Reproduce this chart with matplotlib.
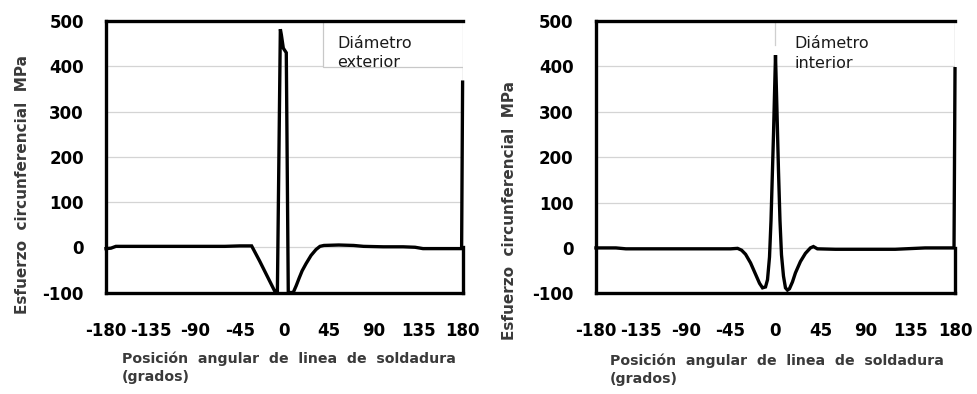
import matplotlib
matplotlib.use("Agg")
import matplotlib.pyplot as plt
from matplotlib.patches import Rectangle

# Hoop stress along the weld line, outer diameter
ang_ext = [-180, -175, -170, -150, -120, -90, -60, -45, -33, -25, -17, -9, -7,
           -4, -3, -1, 2, 4, 9, 12, 15, 18, 22, 27, 32, 36, 40, 55, 70,
           80, 100, 120, 132, 140, 160, 179, 180]
stress_ext = [-3, -2, 2, 2, 2, 2, 2, 3, 3, -30, -65, -100, -100,
              482, 470, 440, 430, -100, -100, -85, -68, -52, -36, -18, -5, 2, 4, 5, 4,
              2, 1, 1, 0, -3, -3, -3, 365]

# Hoop stress along the weld line, inner diameter
ang_int = [-180, -160, -150, -120, -90, -60, -45, -38, -34, -30, -25, -20, -16,
           -13, -10, -8, -6, -4.5, -2, 0, 1.5, 3, 4.5, 6, 8, 10, 12, 14,
           17, 20, 25, 30, 35, 38, 42, 60, 90, 120, 150, 179, 180]
stress_int = [0, 0, -2, -2, -2, -2, -2, -1, -5, -14, -33, -58, -78,
              -88, -86, -70, -20, 60, 250, 425, 300, 170, 60, -15, -62, -88, -93, -90,
              -75, -55, -30, -12, 0, 3, -2, -3, -3, -3, 0, 0, 395]

x_ticks = [-180, -135, -90, -45, 0, 45, 90, 135, 180]
y_ticks = [-100, 0, 100, 200, 300, 400, 500]

ylabel = "Esfuerzo  circunferencial  MPa"
xlabel = "Posición  angular  de  linea  de  soldadura\n(grados)"

plt.rcParams["font.family"] = ["DejaVu Sans"]

fig = plt.figure(figsize=(9.77, 3.94), dpi=100)
ax1 = fig.add_axes([0.1085, 0.2576, 0.365, 0.689])
ax2 = fig.add_axes([0.610, 0.2556, 0.3675, 0.691])

LW = 2.4
GRID = "#d4d4d4"
TXT = "#3a3a3a"


def style(ax, ang, stress):
    ax.set_xlim(-180, 180)
    ax.set_ylim(-100, 500)
    ax.set_xticks(x_ticks)
    ax.set_yticks(y_ticks)
    ax.set_xticklabels([str(v) for v in x_ticks], fontsize=12, fontweight="bold")
    ax.set_yticklabels([str(v) for v in y_ticks], fontsize=12, fontweight="bold")
    ax.tick_params(axis="x", length=0, pad=21)
    ax.tick_params(axis="y", length=0, pad=16)
    for v in y_ticks[1:-1]:
        ax.axhline(v, color=GRID, lw=0.9, zorder=1)
    for s in ("top", "bottom", "left"):
        ax.spines[s].set_linewidth(LW)
        ax.spines[s].set_color("black")
    ax.spines["right"].set_bounds(-100, 0)
    ax.spines["right"].set_linewidth(LW)
    ax.axvline(180, color="#9a9a9a", lw=0.9, zorder=1)
    ax.plot(ang, stress, color="black", lw=LW, zorder=4, solid_joinstyle="miter",
            clip_on=False)


style(ax1, ang_ext, stress_ext)
style(ax2, ang_int, stress_int)

# annotation box of the outer-diameter panel
ax1.add_patch(Rectangle((39, 398), 141, 102, facecolor="white",
                        edgecolor="#c8c8c8", lw=0.9, zorder=2))
ax1.text(0.649, 0.882, "Diámetro\nexterior", transform=ax1.transAxes,
         fontsize=11.5, color="#1a1a1a", va="center", ha="left", linespacing=1.4,
         zorder=5)
ax2.plot([0, 0], [447, 500], color="#cfcfcf", lw=0.9, zorder=1)
ax2.text(0.552, 0.882, "Diámetro\ninterior", transform=ax2.transAxes,
         fontsize=11.5, color="#1a1a1a", va="center", ha="left", linespacing=1.4,
         zorder=5)

# axis titles
fig.text(23 / 977, 1 - 184 / 394, ylabel, rotation=90, ha="center", va="center",
         fontsize=11, fontweight="bold", color=TXT)
fig.text(510 / 977, 1 - 210 / 394, ylabel, rotation=90, ha="center", va="center",
         fontsize=11, fontweight="bold", color=TXT)
fig.text(122 / 977, 1 - 351 / 394, xlabel, ha="left", va="top",
         fontsize=10.2, fontweight="bold", color=TXT, linespacing=1.4)
fig.text(610 / 977, 1 - 353 / 394, xlabel, ha="left", va="top",
         fontsize=10.2, fontweight="bold", color=TXT, linespacing=1.4)

fig.savefig("out.png", dpi=100, facecolor="white")
